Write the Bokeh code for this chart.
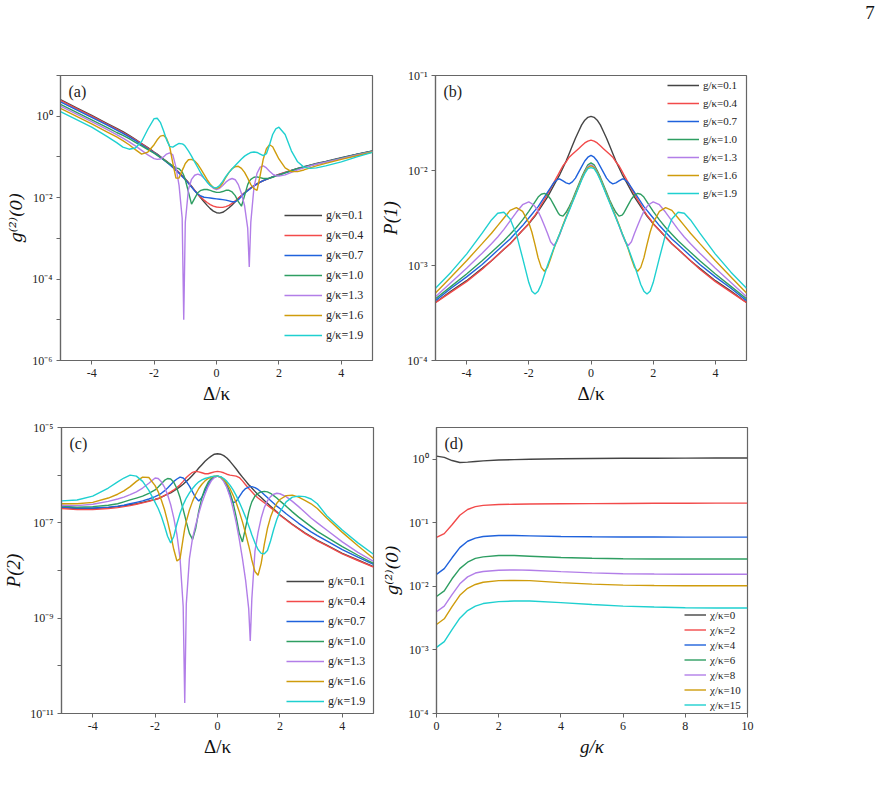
import numpy as np
from bokeh.embed import file_html
from bokeh.layouts import column, row
from bokeh.models import (CustomJSTickFormatter, Div, FixedTicker, Label,
                          Legend, LegendItem, Range1d, Spacer)
from bokeh.plotting import figure
from bokeh.resources import INLINE

# ---------------------------------------------------------------------------
# Detuning grid (Delta/kappa) shared by panels (a)-(c)
# ---------------------------------------------------------------------------
DELTA = [-5.0, -4.5, -4.0, -3.5, -3.2, -3.0, -2.8, -2.6, -2.4, -2.2,
         -2.0, -1.9, -1.8, -1.7, -1.6, -1.5, -1.4, -1.3, -1.2, -1.1,
         -1.05,
         -1.0, -0.9, -0.8, -0.7, -0.6, -0.5, -0.4, -0.3, -0.2, -0.1,
         0.0,
         0.1, 0.2, 0.3, 0.4, 0.5, 0.6, 0.7, 0.8, 0.9, 1.0,
         1.05,
         1.1, 1.2, 1.3, 1.4, 1.5, 1.6, 1.7, 1.8, 1.9, 2.0,
         2.2, 2.4, 2.6, 2.8, 3.0, 3.2, 3.5, 4.0, 4.5, 5.0]

G_LABELS = ["g/κ=0.1", "g/κ=0.4", "g/κ=0.7", "g/κ=1.0",
            "g/κ=1.3", "g/κ=1.6", "g/κ=1.9"]
CHI_LABELS = ["χ/κ=0", "χ/κ=2", "χ/κ=4", "χ/κ=6",
              "χ/κ=8", "χ/κ=10", "χ/κ=15"]
COLORS = ["#444444", "#f24a4a", "#1f62dc", "#2e9e62",
          "#b27ee8", "#cf9c0c", "#1fd0d0"]

# ---------------------------------------------------------------------------
# (a) log10 g2(0) versus Delta/kappa
# ---------------------------------------------------------------------------
A_G01 = [0.41, 0.21, 0.02, -0.18, -0.30, -0.38, -0.47, -0.57, -0.67, -0.77,
         -0.88, -0.93, -0.99, -1.05, -1.11, -1.17, -1.24, -1.31, -1.38, -1.46,
         -1.50,
         -1.54, -1.63, -1.72, -1.82, -1.92, -2.01, -2.10, -2.19, -2.27, -2.33,
         -2.37,
         -2.38, -2.36, -2.31, -2.25, -2.18, -2.10, -2.02, -1.95, -1.88, -1.82,
         -1.79,
         -1.76, -1.71, -1.66, -1.62, -1.58, -1.55, -1.52, -1.49, -1.46, -1.43,
         -1.38, -1.33, -1.28, -1.24, -1.20, -1.16, -1.11, -1.02, -0.93, -0.85]
A_G04 = [0.39, 0.19, 0.00, -0.20, -0.32, -0.40, -0.49, -0.58, -0.68, -0.78,
         -0.89, -0.94, -1.00, -1.06, -1.12, -1.18, -1.25, -1.32, -1.39, -1.47,
         -1.51,
         -1.55, -1.64, -1.73, -1.82, -1.91, -1.99, -2.06, -2.12, -2.17, -2.21,
         -2.23,
         -2.24, -2.24, -2.22, -2.19, -2.14, -2.08, -2.01, -1.95, -1.88, -1.82,
         -1.79,
         -1.76, -1.71, -1.66, -1.62, -1.58, -1.55, -1.52, -1.49, -1.46, -1.43,
         -1.38, -1.33, -1.29, -1.25, -1.21, -1.17, -1.12, -1.03, -0.94, -0.86]
A_G07 = [0.35, 0.16, -0.03, -0.22, -0.34, -0.42, -0.51, -0.60, -0.70, -0.80,
         -0.90, -0.95, -1.01, -1.07, -1.13, -1.19, -1.26, -1.33, -1.40, -1.48,
         -1.52,
         -1.56, -1.65, -1.74, -1.83, -1.91, -1.96, -1.99, -2.00, -2.01, -2.02,
         -2.03,
         -2.04, -2.05, -2.06, -2.08, -2.10, -2.10, -2.05, -1.97, -1.89, -1.83,
         -1.80,
         -1.77, -1.71, -1.66, -1.62, -1.58, -1.55, -1.52, -1.49, -1.46, -1.44,
         -1.39, -1.34, -1.29, -1.25, -1.21, -1.17, -1.12, -1.03, -0.94, -0.86]
A_G10 = [0.29, 0.10, -0.09, -0.28, -0.40, -0.47, -0.55, -0.64, -0.73, -0.82,
         -0.91, -0.96, -1.01, -1.06, -1.12, -1.17, -1.22, -1.27, -1.29, -1.37,
         -1.45,
         -1.56, -1.86, -2.16, -2.02, -1.88, -1.82, -1.80, -1.80, -1.82, -1.85,
         -1.87,
         -1.87, -1.85, -1.82, -1.82, -1.86, -1.95, -2.10, -2.21, -1.95, -1.68,
         -1.60,
         -1.55, -1.50, -1.49, -1.51, -1.53, -1.53, -1.52, -1.50, -1.47, -1.45,
         -1.39, -1.34, -1.29, -1.25, -1.21, -1.17, -1.12, -1.03, -0.94, -0.86]
A_G13 = [0.25, 0.06, -0.13, -0.33, -0.45, -0.54, -0.63, -0.73, -0.84, -0.95,
         -1.04, -1.06, -1.05, -1.00, -0.93, -0.90, -0.95, -1.25, -1.70, -2.50,
         -5.00,
         -2.60, -1.80, -1.55, -1.45, -1.42, -1.45, -1.52, -1.61, -1.70, -1.77,
         -1.80,
         -1.77, -1.70, -1.62, -1.56, -1.53, -1.56, -1.68, -1.90, -2.20, -2.75,
         -3.70,
         -2.60, -1.75, -1.40, -1.25, -1.22, -1.27, -1.35, -1.42, -1.46, -1.47,
         -1.44, -1.38, -1.32, -1.27, -1.22, -1.18, -1.13, -1.04, -0.95, -0.87]
A_G16 = [0.19, 0.00, -0.19, -0.39, -0.51, -0.60, -0.70, -0.82, -0.93, -0.88,
         -0.70, -0.58, -0.49, -0.47, -0.55, -0.75, -1.15, -1.52, -1.52, -1.33,
         -1.25,
         -1.16, -1.07, -1.06, -1.10, -1.18, -1.30, -1.43, -1.56, -1.67, -1.75,
         -1.78,
         -1.74, -1.64, -1.50, -1.38, -1.29, -1.24, -1.23, -1.28, -1.38, -1.52,
         -1.60,
         -1.68, -1.78, -1.82, -1.45, -1.05, -0.80, -0.70, -0.75, -0.90, -1.05,
         -1.27, -1.36, -1.36, -1.32, -1.27, -1.22, -1.16, -1.06, -0.97, -0.88]
A_G19 = [0.11, -0.08, -0.27, -0.50, -0.65, -0.76, -0.81, -0.78, -0.62, -0.32,
         -0.06, -0.05, -0.15, -0.35, -0.58, -0.74, -0.76, -0.71, -0.67, -0.68,
         -0.70,
         -0.74, -0.85, -0.98, -1.12, -1.26, -1.40, -1.52, -1.62, -1.70, -1.75,
         -1.76,
         -1.70, -1.60, -1.48, -1.38, -1.29, -1.21, -1.13, -1.05, -0.98, -0.93,
         -0.91,
         -0.89, -0.88, -0.89, -0.93, -0.97, -0.92, -0.70, -0.45, -0.31, -0.27,
         -0.45, -0.85, -1.12, -1.25, -1.28, -1.27, -1.22, -1.12, -1.00, -0.89]

# ---------------------------------------------------------------------------
# (b) log10 P(1) versus Delta/kappa
# ---------------------------------------------------------------------------
B_G01 = [-3.39, -3.27, -3.16, -3.03, -2.95, -2.89, -2.83, -2.77, -2.70, -2.63,
         -2.56, -2.52, -2.48, -2.43, -2.38, -2.33, -2.28, -2.22, -2.16, -2.10,
         -2.07,
         -2.04, -1.97, -1.90, -1.82, -1.74, -1.66, -1.59, -1.52, -1.47, -1.44,
         -1.43,
         -1.44, -1.47, -1.52, -1.59, -1.66, -1.74, -1.82, -1.90, -1.97, -2.04,
         -2.07,
         -2.10, -2.16, -2.22, -2.28, -2.33, -2.38, -2.43, -2.48, -2.52, -2.56,
         -2.63, -2.70, -2.77, -2.83, -2.89, -2.95, -3.03, -3.16, -3.27, -3.39]
B_G04 = [-3.39, -3.28, -3.17, -3.04, -2.95, -2.89, -2.83, -2.77, -2.70, -2.63,
         -2.56, -2.51, -2.47, -2.42, -2.36, -2.31, -2.25, -2.19, -2.13, -2.07,
         -2.04,
         -2.01, -1.95, -1.91, -1.86, -1.83, -1.80, -1.77, -1.74, -1.71, -1.69,
         -1.68,
         -1.69, -1.71, -1.74, -1.77, -1.80, -1.83, -1.86, -1.91, -1.95, -2.01,
         -2.04,
         -2.07, -2.13, -2.19, -2.25, -2.31, -2.36, -2.42, -2.47, -2.51, -2.56,
         -2.63, -2.70, -2.77, -2.83, -2.89, -2.95, -3.04, -3.17, -3.28, -3.39]
B_G07 = [-3.37, -3.24, -3.12, -2.99, -2.90, -2.84, -2.78, -2.72, -2.65, -2.58,
         -2.50, -2.46, -2.42, -2.38, -2.33, -2.28, -2.23, -2.18, -2.13, -2.10,
         -2.09,
         -2.09, -2.11, -2.13, -2.14, -2.12, -2.08, -2.02, -1.96, -1.90, -1.86,
         -1.84,
         -1.86, -1.90, -1.96, -2.02, -2.08, -2.12, -2.14, -2.13, -2.11, -2.09,
         -2.09,
         -2.10, -2.13, -2.18, -2.23, -2.28, -2.33, -2.38, -2.42, -2.46, -2.50,
         -2.58, -2.65, -2.72, -2.78, -2.84, -2.90, -2.99, -3.12, -3.24, -3.37]
B_G10 = [-3.35, -3.22, -3.09, -2.95, -2.86, -2.80, -2.74, -2.67, -2.60, -2.52,
         -2.43, -2.38, -2.33, -2.28, -2.25, -2.24, -2.26, -2.30, -2.36, -2.42,
         -2.45,
         -2.47, -2.48, -2.44, -2.38, -2.31, -2.23, -2.15, -2.07, -2.00, -1.94,
         -1.92,
         -1.94, -2.00, -2.07, -2.15, -2.23, -2.31, -2.38, -2.44, -2.48, -2.47,
         -2.45,
         -2.42, -2.36, -2.30, -2.26, -2.24, -2.25, -2.28, -2.33, -2.38, -2.43,
         -2.52, -2.60, -2.67, -2.74, -2.80, -2.86, -2.95, -3.09, -3.22, -3.35]
B_G13 = [-3.33, -3.18, -3.03, -2.87, -2.77, -2.70, -2.62, -2.53, -2.44, -2.36,
         -2.33, -2.35, -2.38, -2.43, -2.50, -2.58, -2.66, -2.75, -2.79, -2.75,
         -2.71,
         -2.67, -2.58, -2.49, -2.41, -2.33, -2.25, -2.17, -2.09, -2.02, -1.96,
         -1.94,
         -1.96, -2.02, -2.09, -2.17, -2.25, -2.33, -2.41, -2.49, -2.58, -2.67,
         -2.71,
         -2.75, -2.79, -2.75, -2.66, -2.58, -2.50, -2.43, -2.38, -2.35, -2.33,
         -2.36, -2.44, -2.53, -2.62, -2.70, -2.77, -2.87, -3.03, -3.18, -3.33]
B_G16 = [-3.29, -3.12, -2.95, -2.77, -2.66, -2.58, -2.50, -2.42, -2.39, -2.43,
         -2.55, -2.65, -2.78, -2.92, -3.02, -3.06, -3.02, -2.93, -2.83, -2.74,
         -2.70,
         -2.66, -2.57, -2.49, -2.41, -2.33, -2.25, -2.17, -2.09, -2.02, -1.97,
         -1.95,
         -1.97, -2.02, -2.09, -2.17, -2.25, -2.33, -2.41, -2.49, -2.57, -2.66,
         -2.70,
         -2.74, -2.83, -2.93, -3.02, -3.06, -3.02, -2.92, -2.78, -2.65, -2.55,
         -2.43, -2.39, -2.42, -2.50, -2.58, -2.66, -2.77, -2.95, -3.12, -3.29]
B_G19 = [-3.24, -3.07, -2.88, -2.66, -2.52, -2.45, -2.44, -2.51, -2.67, -2.92,
         -3.18, -3.27, -3.30, -3.27, -3.20, -3.10, -3.00, -2.91, -2.82, -2.74,
         -2.70,
         -2.66, -2.58, -2.50, -2.42, -2.34, -2.26, -2.18, -2.10, -2.03, -1.98,
         -1.97,
         -1.98, -2.03, -2.10, -2.18, -2.26, -2.34, -2.42, -2.50, -2.58, -2.66,
         -2.70,
         -2.74, -2.82, -2.91, -3.00, -3.10, -3.20, -3.27, -3.30, -3.27, -3.18,
         -2.92, -2.67, -2.51, -2.44, -2.45, -2.52, -2.66, -2.88, -3.07, -3.24]

# ---------------------------------------------------------------------------
# (c) log10 P(2) versus Delta/kappa
# ---------------------------------------------------------------------------
C_G01 = [-6.68, -6.70, -6.70, -6.68, -6.66, -6.64, -6.62, -6.60, -6.57, -6.54,
         -6.51, -6.49, -6.46, -6.43, -6.40, -6.37, -6.33, -6.29, -6.24, -6.19,
         -6.16,
         -6.13, -6.07, -6.00, -5.93, -5.85, -5.78, -5.71, -5.65, -5.60, -5.56,
         -5.55,
         -5.56, -5.59, -5.64, -5.71, -5.79, -5.87, -5.96, -6.04, -6.12, -6.20,
         -6.23,
         -6.27, -6.34, -6.41, -6.47, -6.53, -6.59, -6.65, -6.71, -6.77, -6.83,
         -6.93, -7.03, -7.12, -7.21, -7.29, -7.37, -7.47, -7.64, -7.78, -7.92]
C_G04 = [-6.70, -6.72, -6.72, -6.70, -6.68, -6.66, -6.64, -6.61, -6.58, -6.55,
         -6.51, -6.49, -6.46, -6.43, -6.39, -6.35, -6.31, -6.26, -6.20, -6.13,
         -6.09,
         -6.05, -5.99, -5.94, -5.92, -5.93, -5.95, -5.97, -5.97, -5.95, -5.93,
         -5.92,
         -5.93, -5.95, -5.98, -6.00, -6.01, -6.02, -6.05, -6.12, -6.20, -6.28,
         -6.31,
         -6.35, -6.42, -6.48, -6.53, -6.58, -6.63, -6.68, -6.73, -6.78, -6.84,
         -6.94, -7.04, -7.13, -7.22, -7.30, -7.38, -7.48, -7.65, -7.79, -7.93]
C_G07 = [-6.67, -6.69, -6.69, -6.67, -6.65, -6.63, -6.60, -6.57, -6.54, -6.50,
         -6.45, -6.42, -6.38, -6.33, -6.27, -6.20, -6.13, -6.08, -6.04, -6.06,
         -6.09,
         -6.13, -6.23, -6.35, -6.47, -6.54, -6.47, -6.33, -6.20, -6.10, -6.04,
         -6.02,
         -6.04, -6.11, -6.24, -6.42, -6.58, -6.55, -6.45, -6.35, -6.28, -6.25,
         -6.24,
         -6.24, -6.26, -6.30, -6.35, -6.41, -6.47, -6.53, -6.59, -6.65, -6.70,
         -6.81, -6.91, -7.01, -7.10, -7.19, -7.27, -7.38, -7.56, -7.72, -7.87]
C_G10 = [-6.65, -6.67, -6.66, -6.63, -6.60, -6.56, -6.52, -6.48, -6.44, -6.38,
         -6.31, -6.25, -6.18, -6.11, -6.07, -6.08, -6.15, -6.28, -6.47, -6.72,
         -6.85,
         -6.98, -7.22, -7.35, -7.12, -6.75, -6.47, -6.28, -6.15, -6.07, -6.03,
         -6.02,
         -6.04, -6.10, -6.20, -6.36, -6.58, -6.88, -7.22, -7.40, -7.10, -6.78,
         -6.66,
         -6.56, -6.44, -6.38, -6.35, -6.34, -6.35, -6.38, -6.43, -6.48, -6.54,
         -6.65, -6.77, -6.88, -6.98, -7.08, -7.18, -7.30, -7.50, -7.68, -7.85]
C_G13 = [-6.63, -6.64, -6.61, -6.55, -6.50, -6.46, -6.41, -6.35, -6.27, -6.17,
         -6.06, -6.07, -6.14, -6.25, -6.41, -6.62, -6.90, -7.25, -7.75, -8.75,
         -10.78,
         -8.70, -7.75, -7.32, -7.05, -6.80, -6.58, -6.40, -6.24, -6.12, -6.05,
         -6.02,
         -6.05, -6.13, -6.26, -6.45, -6.70, -7.00, -7.35, -7.75, -8.20, -8.80,
         -9.48,
         -8.60, -7.60, -7.20, -6.90, -6.68, -6.54, -6.45, -6.40, -6.38, -6.39,
         -6.45, -6.55, -6.66, -6.78, -6.90, -7.00, -7.15, -7.40, -7.62, -7.81]
C_G16 = [-6.60, -6.60, -6.57, -6.48, -6.40, -6.33, -6.24, -6.13, -6.04, -6.05,
         -6.22, -6.35, -6.52, -6.72, -6.97, -7.25, -7.56, -7.80, -7.75, -7.32,
         -7.12,
         -6.97, -6.73, -6.55, -6.40, -6.28, -6.19, -6.12, -6.07, -6.04, -6.02,
         -6.02,
         -6.04, -6.09, -6.17, -6.28, -6.42, -6.58, -6.77, -6.98, -7.22, -7.48,
         -7.62,
         -7.78, -8.02, -8.10, -7.85, -7.45, -7.12, -6.88, -6.71, -6.59, -6.51,
         -6.43, -6.42, -6.46, -6.53, -6.60, -6.70, -6.90, -7.20, -7.48, -7.75]
C_G19 = [-6.54, -6.52, -6.44, -6.27, -6.14, -6.06, -6.00, -6.02, -6.13, -6.32,
         -6.57, -6.70, -6.86, -7.06, -7.28, -7.42, -7.28, -7.02, -6.80, -6.62,
         -6.55,
         -6.48, -6.37, -6.28, -6.20, -6.14, -6.10, -6.07, -6.05, -6.03, -6.02,
         -6.02,
         -6.03, -6.07, -6.13, -6.21, -6.31, -6.43, -6.57, -6.72, -6.88, -7.06,
         -7.15,
         -7.25, -7.42, -7.56, -7.64, -7.65, -7.58, -7.38, -7.14, -6.93, -6.77,
         -6.56, -6.46, -6.44, -6.45, -6.50, -6.60, -6.85, -7.15, -7.42, -7.66]

# ---------------------------------------------------------------------------
# (d) log10 g2(0) versus g/kappa for several Kerr strengths
# ---------------------------------------------------------------------------
G = [0.0, 0.25, 0.5, 0.75, 1.0, 1.25, 1.5, 2.0, 2.5, 3.0,
     4.0, 5.0, 6.0, 7.0, 8.0, 9.0, 10.0]
D_CHI0 = [0.05, 0.03, -0.02, -0.05, -0.045, -0.035, -0.025, -0.012, -0.005,
          0.0, 0.008, 0.012, 0.015, 0.017, 0.018, 0.019, 0.02]
D_CHI2 = [-1.23, -1.17, -1.03, -0.88, -0.79, -0.745, -0.725, -0.712, -0.707,
          -0.704, -0.70, -0.697, -0.695, -0.693, -0.691, -0.69, -0.69]
D_CHI4 = [-1.81, -1.72, -1.55, -1.39, -1.29, -1.24, -1.215, -1.20, -1.20,
          -1.205, -1.215, -1.22, -1.222, -1.224, -1.225, -1.225, -1.225]
D_CHI6 = [-2.16, -2.07, -1.88, -1.72, -1.62, -1.56, -1.535, -1.515, -1.515,
          -1.525, -1.545, -1.558, -1.565, -1.568, -1.57, -1.57, -1.57]
D_CHI8 = [-2.40, -2.31, -2.13, -1.96, -1.85, -1.79, -1.765, -1.745, -1.74,
          -1.747, -1.768, -1.787, -1.80, -1.806, -1.81, -1.81, -1.81]
D_CHI10 = [-2.60, -2.51, -2.32, -2.14, -2.03, -1.97, -1.935, -1.91, -1.905,
           -1.91, -1.94, -1.965, -1.98, -1.987, -1.99, -1.99, -1.99]
D_CHI15 = [-2.96, -2.87, -2.68, -2.50, -2.38, -2.31, -2.27, -2.24, -2.23,
           -2.23, -2.255, -2.285, -2.31, -2.325, -2.335, -2.34, -2.34]

SERIF = "Liberation Serif"
LABEL_SERIF = "DejaVu Serif"
FRAME = "#666666"

POW_CODE = """
const e = Math.round(Math.log10(tick));
if (((e - first) % every) != 0) { return ""; }
const sup = {"-": "⁻", "0": "⁰", "1": "¹", "2": "²", "3": "³", "4": "⁴",
             "5": "⁵", "6": "⁶", "7": "⁷", "8": "⁸", "9": "⁹"};
return "10" + String(e).split("").map(c => sup[c]).join("");
"""
PLAIN_CODE = "return String(tick);"


def make_panel(x, series, labels, xr, yexp, label_every, xticks, xlabel,
               ylabel, tag, frame_w, frame_h, borders, legend_cfg):
    left, right, top, bottom = borders
    p = figure(frame_width=frame_w, frame_height=frame_h,
               x_range=Range1d(*xr),
               y_range=Range1d(10.0 ** yexp[0], 10.0 ** yexp[1]),
               y_axis_type="log", output_backend="svg",
               toolbar_location=None, title=None,
               min_border_left=left, min_border_right=right,
               min_border_top=top, min_border_bottom=bottom)
    p.background_fill_color = "white"
    p.border_fill_color = "white"
    p.outline_line_color = FRAME
    p.outline_line_width = 1.2
    p.xgrid.visible = False
    p.ygrid.visible = False

    lo = int(np.ceil(yexp[0]))
    hi = int(np.floor(yexp[1]))
    p.yaxis.ticker = FixedTicker(ticks=[10.0 ** e for e in range(lo, hi + 1)],
                                 minor_ticks=[])
    p.yaxis.formatter = CustomJSTickFormatter(
        args=dict(first=lo, every=label_every), code=POW_CODE)
    p.xaxis.ticker = FixedTicker(ticks=xticks, minor_ticks=[])
    p.xaxis.formatter = CustomJSTickFormatter(code=PLAIN_CODE)

    for ax in (p.xaxis[0], p.yaxis[0]):
        ax.axis_line_color = FRAME
        ax.axis_line_width = 1.2
        ax.major_tick_line_color = FRAME
        ax.major_tick_out = 4
        ax.major_tick_in = 0
        ax.minor_tick_line_color = None
        ax.major_label_text_font = SERIF
        ax.major_label_text_font_size = "12px"
        ax.major_label_text_color = "#222222"
        ax.major_label_standoff = 4
        ax.axis_label_text_font = SERIF
        ax.axis_label_text_font_size = "19px"
        ax.axis_label_text_color = "#111111"
        ax.axis_label_standoff = 3
    p.xaxis.axis_label = xlabel
    p.xaxis.axis_label_text_font_style = "normal" if xlabel.startswith("Δ") else "italic"
    p.yaxis.axis_label = ylabel
    p.yaxis.axis_label_text_font_style = "italic"
    if "⁽" in ylabel:
        p.yaxis.axis_label_text_font = LABEL_SERIF
        p.yaxis.axis_label_text_font_size = "17px"

    items = []
    for vals, lab, col in zip(series, labels, COLORS):
        r = p.line(x, 10.0 ** np.asarray(vals), line_color=col, line_width=1.4)
        items.append(LegendItem(label=lab, renderers=[r]))

    loc, gw, gh, fs = legend_cfg
    leg = Legend(items=items, location=loc, padding=0, margin=0, spacing=0,
                 glyph_width=gw, glyph_height=gh, label_height=gh,
                 label_standoff=4, label_text_font=SERIF,
                 label_text_font_size=fs, label_text_color="#222222",
                 border_line_alpha=0, background_fill_alpha=0)
    p.add_layout(leg)

    p.add_layout(Label(x=8, y=frame_h - 7, x_units="screen", y_units="screen",
                       text=tag, text_baseline="top", text_align="left",
                       text_font=SERIF, text_font_size="16px",
                       text_color="#222222"))
    return p


DX_TICKS = [-4, -2, 0, 2, 4]

pa = make_panel(DELTA, [A_G01, A_G04, A_G07, A_G10, A_G13, A_G16, A_G19],
                G_LABELS, (-5, 5), (-6, 1), 2, DX_TICKS, "Δ/κ", "g⁽²⁾(0)",
                "(a)", 312, 285, (60, 5, 47, 50), ((224, 15), 38, 20, "12px"))
pb = make_panel(DELTA, [B_G01, B_G04, B_G07, B_G10, B_G13, B_G16, B_G19],
                G_LABELS, (-5, 5), (-4, -1), 1, DX_TICKS, "Δ/κ", "P(1)",
                "(b)", 311, 285, (58, 146, 47, 50), ((232, 158), 32, 18, "11px"))
pc = make_panel(DELTA, [C_G01, C_G04, C_G07, C_G10, C_G13, C_G16, C_G19],
                G_LABELS, (-5, 5), (-11, -5), 2, DX_TICKS, "Δ/κ", "P(2)",
                "(c)", 312, 286, (60, 5, 17, 70), ((225, 2), 38, 20, "12px"))
pd = make_panel(G, [D_CHI0, D_CHI2, D_CHI4, D_CHI6, D_CHI8, D_CHI10, D_CHI15],
                CHI_LABELS, (0, 10), (-4, 0.5), 1, [0, 2, 4, 6, 8, 10], "g/κ",
                "g⁽²⁾(0)", "(d)", 311, 286, (58, 146, 17, 70),
                ((248, 1), 22, 15, "11px"))

# page number strip across the top
page_no = Div(text="7", width=34, height=28, margin=0,
              styles={"font-family": SERIF, "font-size": "19px",
                      "color": "#111111", "line-height": "1",
                      "padding-top": "3px", "text-align": "center"})
header = row(Spacer(width=853, height=28, margin=0), page_no)

layout = column(header, row(pa, pb), row(pc, pd))

open("out.html", "w").write(file_html(layout, INLINE))
